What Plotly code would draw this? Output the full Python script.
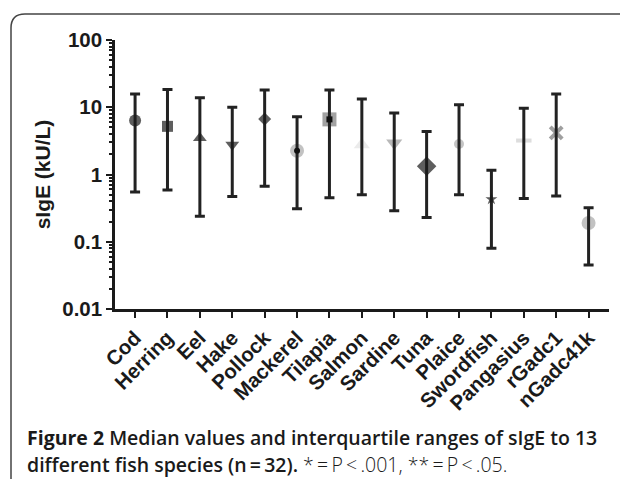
import plotly.graph_objects as go

categories = ["Cod", "Herring", "Eel", "Hake", "Pollock", "Mackerel", "Tilapia", "Salmon",
              "Sardine", "Tuna", "Plaice", "Swordfish", "Pangasius", "rGadc1", "nGadc41k"]
median = [6.35, 5.2, 3.5, 2.77, 6.7, 2.26, 6.6, 2.77, 2.94, 1.33, 2.84, 0.43, 3.2, 4.15, 0.19]
q1 = [0.55, 0.59, 0.24, 0.47, 0.67, 0.31, 0.45, 0.50, 0.29, 0.23, 0.50, 0.080, 0.44, 0.48, 0.045]
q3 = [15.7, 18.3, 13.9, 10.0, 18.0, 7.2, 18.0, 13.3, 8.2, 4.37, 10.9, 1.16, 9.7, 15.7, 0.32]

# marker styles (per category)
under_symbol = ["circle", "square", "triangle-up", "triangle-down", "diamond", "circle", "square",
                "triangle-up", "triangle-down", "diamond", "circle", "star", "line-ew", "x-thin", "circle"]
under_color = ["#1a1a1a", "#1a1a1a", "#1a1a1a", "#1a1a1a", "#1a1a1a", "#a8a8a8", "#7a7a7a",
               "#e3e3e3", "#9a9a9a", "#1a1a1a", "#ababab", "#1a1a1a", "#cfcfcf", "#777777", "#a8a8a8"]
under_size = [12, 11, 12, 12, 10, 14, 14, 14, 14, 15, 10, 9, 11, 12, 14]
is_black = [True, True, True, True, True, False, False, False, False, True, False, True, False, False, False]
dot_symbol = [None, None, None, None, None, "circle", "square", None, None, None, None, None, None, None, None]

# page has an 8px body margin: draw in figure coordinates = reference coordinates - 8
OFF = 8
W_FIG, H_FIG = 628 - OFF, 479 - OFF
L, R, T, B = 115 - OFF, 19, 40 - OFF, 170
PW, PH = W_FIG - L - R, H_FIG - T - B


def px(x):
    return (x - OFF - L) / PW


def py(y):
    return (T + PH - (y - OFF)) / PH


fig = go.Figure()

# grey/under markers
fig.add_trace(go.Scatter(
    x=[c for c, b in zip(categories, is_black) if not b],
    y=[m for m, b in zip(median, is_black) if not b], mode="markers",
    marker=dict(symbol=[s for s, b in zip(under_symbol, is_black) if not b],
                color=[c for c, b in zip(under_color, is_black) if not b],
                size=[s for s, b in zip(under_size, is_black) if not b],
                line=dict(width=[4 if s in ("line-ew", "x-thin") else 0
                                 for s, b in zip(under_symbol, is_black) if not b],
                          color=[c for c, b in zip(under_color, is_black) if not b])),
    hoverinfo="skip", showlegend=False))

# error bars (interquartile ranges)
fig.add_trace(go.Scatter(
    x=categories, y=median, mode="markers",
    marker=dict(size=1, color="rgba(0,0,0,0)"),
    error_y=dict(type="data", symmetric=False,
                 array=[u - m for u, m in zip(q3, median)],
                 arrayminus=[m - l for m, l in zip(median, q1)],
                 color="#222222", thickness=3, width=5),
    hoverinfo="skip", showlegend=False))

# black markers on top
fig.add_trace(go.Scatter(
    x=[c for c, b in zip(categories, is_black) if b],
    y=[m for m, b in zip(median, is_black) if b], mode="markers",
    marker=dict(symbol=[s for s, b in zip(under_symbol, is_black) if b],
                color="#1a1a1a",
                size=[s for s, b in zip(under_size, is_black) if b], line=dict(width=0)),
    hoverinfo="skip", showlegend=False))

# small black centre dots
fig.add_trace(go.Scatter(
    x=[c for c, d in zip(categories, dot_symbol) if d],
    y=[m for m, d in zip(median, dot_symbol) if d], mode="markers",
    marker=dict(symbol=[d for d in dot_symbol if d], color="#111111", size=6, line=dict(width=0)),
    hoverinfo="skip", showlegend=False))

tickfont = dict(family="Liberation Sans, Arial, sans-serif", size=20.5, color="#1a1a1a", weight="bold")

fig.update_xaxes(
    type="category", categoryorder="array", categoryarray=categories, range=[-0.62, 14.63],
    showline=True, linecolor="#1a1a1a", linewidth=2.5,
    ticks="outside", ticklen=6, tickwidth=2, tickcolor="#1a1a1a",
    tickangle=-45, tickfont=tickfont, showgrid=False, zeroline=False)

fig.update_yaxes(
    type="log", range=[-2, 2],
    tickvals=[0.01, 0.1, 1, 10, 100], ticktext=["0.01", "0.1", "1", "10", "100"],
    showline=True, linecolor="#1a1a1a", linewidth=2.5,
    ticks="outside", ticklen=6, tickwidth=2, tickcolor="#1a1a1a",
    minor=dict(ticks="outside", ticklen=3.5, tickwidth=1.5, tickcolor="#1a1a1a", dtick="D1", showgrid=False),
    tickfont=tickfont, showgrid=False, zeroline=False,
    title=dict(text="sIgE (kU/L)", font=dict(family="Liberation Sans, Arial, sans-serif", size=21,
                                             color="#1a1a1a", weight="bold"), standoff=6))

# rounded frame
frame = (f"M {px(11)},{py(500)} L {px(11)},{py(28)} Q {px(11)},{py(14)} {px(25)},{py(14)} "
         f"L {px(660)},{py(14)}")
fig.add_shape(type="path", path=frame, xref="paper", yref="paper",
              line=dict(color="#444444", width=1.5), layer="below")

capfont = dict(family="Open Sans, sans-serif", size=19.5, color="#1a1a1a", weight=600)
fig.add_annotation(text="<b>Figure 2</b> Median values and interquartile ranges of sIgE to 13",
                   xref="paper", yref="paper", x=px(25), y=py(437), xanchor="left", yanchor="middle",
                   showarrow=False, font=capfont)
fig.add_annotation(text="different fish species (n\u2009=\u200932). "
                        "<span style='font-weight:300'>*\u2009=\u2009P\u2009&lt;\u2009.001, "
                        "**\u2009=\u2009P\u2009&lt;\u2009.05.</span>",
                   xref="paper", yref="paper", x=px(25), y=py(464), xanchor="left", yanchor="middle",
                   showarrow=False, font=capfont)

fig.update_layout(
    width=W_FIG, height=H_FIG,
    margin=dict(l=L, r=R, t=T, b=B, autoexpand=False),
    paper_bgcolor="white", plot_bgcolor="white")

fig.write_html("out.html")
